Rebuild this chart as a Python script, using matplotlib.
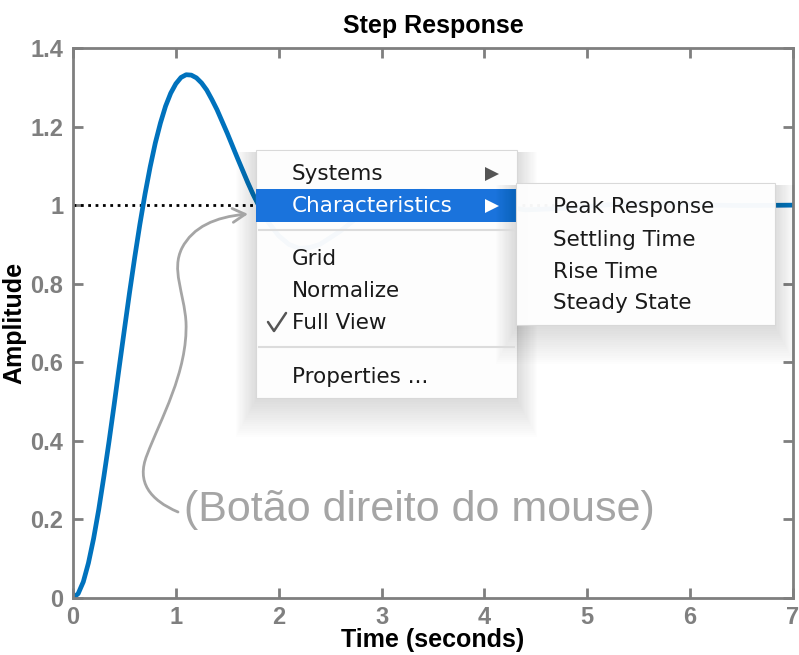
import matplotlib.pyplot as plt
from matplotlib.patches import Rectangle, FancyArrowPatch, Polygon
from matplotlib.path import Path

# step response
time = [0.0, 0.05, 0.1, 0.15, 0.2, 0.25, 0.3, 0.35, 0.4, 0.45, 0.5, 0.55, 0.6,
        0.65, 0.7, 0.75, 0.8, 0.85, 0.9, 0.95, 1.0, 1.05, 1.1, 1.15, 1.2, 1.25,
        1.3, 1.35, 1.4, 1.45, 1.5, 1.55, 1.6, 1.65, 1.7, 1.75, 1.8, 1.9, 2.0,
        2.1, 2.2, 2.3, 2.4, 2.6, 2.8, 3.0, 3.2, 3.4, 3.6, 3.8, 4.0, 4.4, 4.8,
        5.2, 5.6, 6.0, 6.5, 7.0]
amplitude = [0.0, 0.011, 0.041, 0.089, 0.151, 0.225, 0.309, 0.398, 0.492, 0.589,
             0.684, 0.778, 0.867, 0.951, 1.028, 1.097, 1.158, 1.209, 1.252, 1.285,
             1.309, 1.325, 1.332, 1.331, 1.324, 1.311, 1.293, 1.269, 1.243, 1.213,
             1.183, 1.151, 1.119, 1.088, 1.057, 1.028, 1.002, 0.956, 0.922, 0.900,
             0.890, 0.892, 0.900, 0.934, 0.976, 1.012, 1.033, 1.037, 1.030, 1.016,
             1.003, 0.988, 0.992, 1.001, 1.004, 1.001, 0.999, 1.0]
steady_state = 1.0

x_ticks = [0, 1, 2, 3, 4, 5, 6, 7]
y_ticks = [0, 0.2, 0.4, 0.6, 0.8, 1.0, 1.2, 1.4]
y_tick_labels = ['0', '0.2', '0.4', '0.6', '0.8', '1', '1.2', '1.4']

menu_items = ['Systems', 'Characteristics', 'Grid', 'Normalize', 'Full View', 'Properties ...']
submenu_items = ['Peak Response', 'Settling Time', 'Rise Time', 'Steady State']
note = '(Botão direito do mouse)'

grey = '#7f7f7f'
blue = '#0072BD'

fig = plt.figure(figsize=(7.99, 6.55), dpi=100)
ax = fig.add_axes([73 / 799, 1 - 598 / 655, 720 / 799, 550 / 655])

ax.plot([0, 7], [steady_state, steady_state], color='black', linestyle=':', linewidth=2)
ax.plot(time, amplitude, color=blue, linewidth=3.4, solid_capstyle='round',
        solid_joinstyle='round')

ax.set_xlim(0, 7)
ax.set_ylim(0, 1.4)
ax.set_xticks(x_ticks)
ax.set_yticks(y_ticks)
ax.set_yticklabels(y_tick_labels)
for s in ax.spines.values():
    s.set_color(grey)
    s.set_linewidth(2)
ax.tick_params(direction='in', length=7, width=2, color=grey, labelcolor=grey,
               top=True, right=True, labelsize=17)
ax.tick_params(axis='x', pad=6)
ax.tick_params(axis='y', pad=7)
for lab in ax.get_xticklabels() + ax.get_yticklabels():
    lab.set_fontfamily('Liberation Sans')
    lab.set_fontweight('bold')

ax.set_title('Step Response', fontfamily='Liberation Sans', fontweight='bold',
             fontsize=18, pad=11)
ax.set_xlabel('Time (seconds)', fontfamily='Liberation Sans', fontweight='bold',
              fontsize=18, labelpad=-1)
ax.set_ylabel('Amplitude', fontfamily='Liberation Sans', fontweight='bold',
              fontsize=18, labelpad=3)

# overlay in pixel coordinates for the context menu and note
ov = fig.add_axes([0, 0, 1, 1], zorder=5)
ov.set_xlim(0, 799)
ov.set_ylim(655, 0)
ov.axis('off')


def menu_box(x0, y0, x1, y1):
    # soft drop shadow, heavier below the box
    for i in range(1, 18):
        ov.add_patch(Rectangle((x0 - i * 1.2, y0 + 2), (x1 - x0) + i * 2.4,
                               (y1 - y0) + i * 2.2, facecolor='black', alpha=0.006,
                               edgecolor='none'))
    ov.add_patch(Rectangle((x0, y0), x1 - x0, y1 - y0, facecolor='white', alpha=0.965,
                           edgecolor='#d8d8d8', linewidth=0.8))


menu_font = dict(fontfamily='DejaVu Sans', fontsize=15.5, va='center', ha='left')

# main menu
menu_box(256, 150, 517, 398)
ov.add_patch(Rectangle((256, 189), 261, 33, facecolor='#1570dc', alpha=0.98, edgecolor='none'))
ov.plot([259, 514], [230, 230], color='#dcdcdc', linewidth=1.5)
ov.plot([259, 514], [347, 347], color='#dcdcdc', linewidth=1.5)
menu_y = [174, 206, 259, 291, 323, 377]
for label, y in zip(menu_items, menu_y):
    ov.text(292, y, label, color='white' if label == 'Characteristics' else '#1a1a1a',
            **menu_font)
ov.add_patch(Polygon([[485, 167], [485, 181], [499, 174]], closed=True,
                     facecolor='#555555', edgecolor='none'))
ov.add_patch(Polygon([[485, 199], [485, 213], [499, 206]], closed=True,
                     facecolor='white', edgecolor='none'))
ov.plot([268, 274, 286], [322, 331, 313], color='#555555', linewidth=1.8,
        solid_capstyle='round', solid_joinstyle='round')

# sub menu
menu_box(516, 183, 775, 325)
for label, y in zip(submenu_items, [207, 240, 272, 303]):
    ov.text(553, y, label, color='#1a1a1a', **menu_font)

# note with curly arrow
ov.text(184, 510, note, color='#a5a5a5', fontfamily='Liberation Sans', fontsize=31,
        va='center', ha='left')
verts = [(178, 512), (150, 500), (136, 482), (147, 455),
         (160, 420), (188, 372), (186, 322),
         (184, 292), (171, 270), (182, 248),
         (193, 227), (215, 217), (248, 214)]
codes = [Path.MOVETO] + [Path.CURVE4] * 12
arrow = FancyArrowPatch(path=Path(verts, codes), arrowstyle='->,head_length=9,head_width=5',
                        color='#a5a5a5', linewidth=2)
ov.add_patch(arrow)

fig.savefig('out.png', dpi=100)
